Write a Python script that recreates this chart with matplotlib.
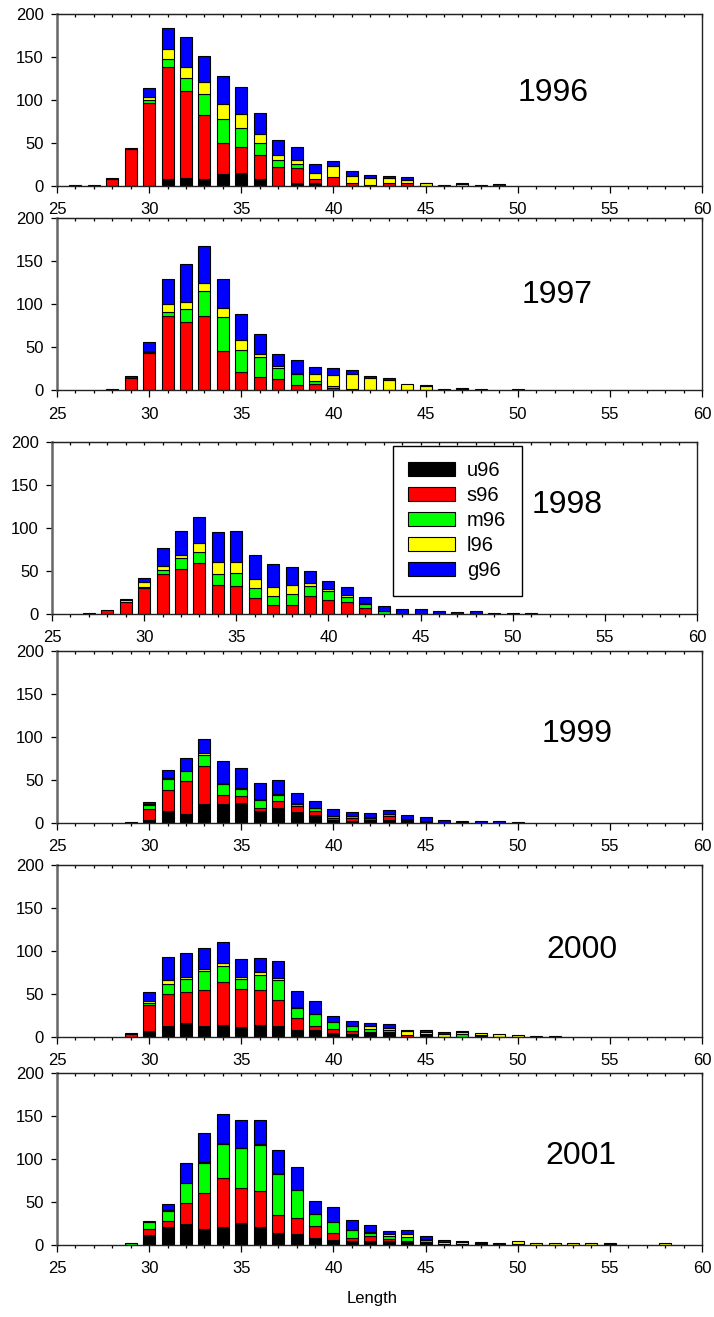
"""Stacked length-frequency bars by group, one panel per year (1996-2001)."""

import matplotlib.pyplot as plt
import numpy as np
from matplotlib.patches import Patch
from matplotlib.ticker import MultipleLocator

plt.rcParams["font.family"] = ["Liberation Sans", "DejaVu Sans"]

FIRST_LENGTH = 26
GROUPS = ["u96", "s96", "m96", "l96", "g96"]
COLORS = ["#000000", "#ff0000", "#00ff00", "#ffff00", "#0000ff"]
YEARS = ["1996", "1997", "1998", "1999", "2000", "2001"]

# counts per 1-unit length class, starting at FIRST_LENGTH
U_1996 = [0, 0, 0, 0, 0, 8, 9, 8, 14, 15, 8, 0, 3, 3, 0, 0, 0, 0, 0, 0, 0, 0, 0, 0]
S_1996 = [1, 1, 8, 43, 97, 130, 102, 75, 36, 30, 28, 22, 18, 5, 10, 3, 1, 3, 3, 0, 0, 0, 0, 0]
M_1996 = [0, 0, 0, 0, 3, 10, 15, 24, 28, 22, 14, 8, 4, 0, 0, 0, 0, 0, 0, 0, 0, 0, 0, 0]
L_1996 = [0, 0, 0, 0, 4, 11, 13, 14, 18, 17, 11, 6, 5, 7, 13, 9, 8, 6, 4, 3, 0, 2, 0, 0]
G_1996 = [0, 0, 1, 1, 10, 25, 35, 30, 32, 31, 24, 18, 15, 11, 6, 6, 4, 3, 3, 1, 1, 1, 1, 2]

U_1997 = [0] * 25
S_1997 = [0, 0, 1, 14, 44, 87, 79, 86, 46, 21, 15, 13, 6, 7, 3, 1, 0, 0, 0, 0, 0, 0, 0, 0, 0]
M_1997 = [0, 0, 0, 0, 0.5, 4, 16, 29, 39, 26, 24, 13, 13, 4, 2, 1, 0, 0, 0, 0, 0, 0, 0, 0, 0]
L_1997 = [0, 0, 0, 0, 1, 9, 8, 10, 11, 11, 3, 2, 1, 8, 13, 17, 14, 12, 7, 5, 2, 2, 2, 0, 0]
G_1997 = [0, 0, 0, 3, 11, 30, 44, 43, 34, 31, 23, 14, 15, 8, 8, 5, 3, 2, 0, 1, 0, 1, 0, 0, 1]

U_1998 = [0] * 26
S_1998 = [0, 1, 4, 14, 30, 46, 52, 59, 33, 32, 18, 10, 10, 21, 16, 14, 7, 0, 0, 0, 0, 0, 0, 0, 0, 0]
M_1998 = [0, 0, 0, 0, 1, 5, 13, 13, 13, 16, 12, 11, 13, 11, 10, 6, 4, 3, 0, 0, 0, 0, 0, 0, 0, 0]
L_1998 = [0, 0, 0, 2, 6, 5, 4, 10, 14, 12, 11, 10, 10, 4, 3, 2, 2, 0, 0, 0, 0, 0, 0, 0, 0, 0]
G_1998 = [0, 0, 0, 1, 5, 21, 28, 31, 35, 36, 28, 27, 21, 14, 9, 9, 6, 6, 5, 6, 3, 2, 3, 1, 1, 1]

U_1999 = [0, 0, 0, 1, 4, 14, 11, 22, 22, 23, 14, 17, 13, 9, 3, 2, 4, 4, 4, 1, 0, 1, 0, 0, 0]
S_1999 = [0, 0, 0, 0, 12, 24, 38, 44, 11, 8, 4, 8, 7, 5, 3, 4, 2, 4, 0, 1, 0, 0, 0, 0, 0]
M_1999 = [0, 0, 0, 0, 5, 13, 12, 13, 12, 9, 9, 8, 2, 3, 2, 2, 1, 2, 0, 0, 0, 0, 0, 0, 0]
L_1999 = [0, 0, 0, 0, 1, 1, 0, 2, 2, 1, 1, 1, 1, 1, 0, 0, 0, 0, 1, 0, 0, 1, 0, 0, 1]
G_1999 = [0, 0, 0, 0, 2, 10, 15, 17, 25, 23, 19, 16, 12, 8, 8, 5, 5, 5, 4, 5, 3, 0, 2, 2, 0]

U_2000 = [0, 0, 0, 0, 7, 12, 16, 13, 14, 11, 14, 12, 8, 8, 4, 3, 5, 6, 0, 3, 0, 0, 2, 0, 0, 0, 0]
S_2000 = [0, 0, 0, 3, 30, 38, 36, 41, 50, 45, 40, 31, 14, 5, 5, 4, 1, 0, 2, 0, 0, 0, 0, 0, 0, 0, 0]
M_2000 = [0, 0, 0, 1, 2, 12, 15, 23, 18, 11, 18, 23, 11, 13, 8, 6, 3, 2, 0, 0, 0, 3, 0, 0, 0, 0, 0]
L_2000 = [0, 0, 0, 0, 3, 4, 2, 2, 4, 2, 3, 2, 2, 0, 0, 0, 3, 2, 5, 3, 3, 2, 2, 3, 2, 1, 1]
G_2000 = [0, 0, 0, 0, 10, 27, 29, 24, 24, 22, 17, 20, 18, 16, 7, 5, 4, 5, 1, 2, 2, 2, 0, 0, 0, 0, 0]

U_2001 = [0, 0, 0, 0, 11, 20, 24, 18, 20, 25, 20, 14, 12, 8, 5, 4, 4, 4, 3, 3, 1, 1, 2, 1, 1,
          0, 0, 0, 0, 2, 0, 0, 0]
S_2001 = [0, 0, 0, 0, 7, 8, 24, 42, 58, 41, 42, 21, 19, 14, 9, 4, 6, 3, 1, 0, 0, 0, 0, 0, 0,
          0, 0, 0, 0, 0, 0, 0, 0]
M_2001 = [0, 0, 0, 2, 8, 11, 24, 35, 39, 46, 54, 47, 33, 14, 12, 9, 4, 3, 5, 2, 0, 0, 0, 0, 0,
          0, 0, 0, 0, 0, 0, 0, 0]
L_2001 = [0, 0, 0, 0, 1, 1, 0, 1, 1, 1, 1, 1, 0, 0, 0, 0, 1, 2, 3, 2, 2, 2, 0, 1, 3,
          2, 2, 2, 2, 0, 0, 0, 2]
G_2001 = [0, 0, 0, 0, 0, 7, 23, 34, 34, 32, 28, 27, 26, 15, 18, 12, 8, 4, 5, 3, 2, 1, 1, 0, 0,
          0, 0, 0, 0, 0, 0, 0, 0]

YEAR_SERIES = {
    "1996": [U_1996, S_1996, M_1996, L_1996, G_1996],
    "1997": [U_1997, S_1997, M_1997, L_1997, G_1997],
    "1998": [U_1998, S_1998, M_1998, L_1998, G_1998],
    "1999": [U_1999, S_1999, M_1999, L_1999, G_1999],
    "2000": [U_2000, S_2000, M_2000, L_2000, G_2000],
    "2001": [U_2001, S_2001, M_2001, L_2001, G_2001],
}

# panel rectangles (figure fraction) and year-label spots (axes fraction)
PANEL_RECTS = [
    (0.0798, 0.8588, 0.9034, 0.1304),
    (0.0798, 0.7036, 0.9034, 0.1306),
    (0.0728, 0.5340, 0.9034, 0.1301),
    (0.0798, 0.3751, 0.9034, 0.1306),
    (0.0798, 0.2128, 0.9034, 0.1304),
    (0.0798, 0.0549, 0.9034, 0.1306),
]
YEAR_LABEL_POS = [
    (0.769, 0.542),
    (0.775, 0.554),
    (0.798, 0.634),
    (0.807, 0.517),
    (0.814, 0.505),
    (0.812, 0.516),
]


def style_axes(ax):
    """Ticks and spines like the original plot."""

    ax.set_xlim(25, 60)
    ax.set_ylim(0, 200)
    ax.set_xticks(range(25, 61, 5))
    ax.xaxis.set_minor_locator(MultipleLocator(1))
    ax.set_yticks(range(0, 201, 50))
    ax.tick_params(axis="x", which="major", direction="out", length=4.8,
                   width=0.9, pad=7, labelsize=12)
    ax.tick_params(axis="x", which="minor", direction="out", length=2.4,
                   width=0.9)
    ax.tick_params(axis="y", direction="out", length=4.5, width=0.9,
                   pad=5, labelsize=12)

    top = ax.secondary_xaxis("top")
    top.set_xticks(range(25, 61))
    top.tick_params(direction="in", length=2.4, width=0.9, labeltop=False)
    top.spines["top"].set_color("#333333")

    for name in ["top", "right", "bottom"]:
        ax.spines[name].set_color("#222222")
        ax.spines[name].set_linewidth(1.0)
    ax.spines["left"].set_color("#666666")
    ax.spines["left"].set_linewidth(1.8)


def draw_panel(ax, series):
    """Draw one year's stacked bars."""

    n = max(len(s) for s in series)
    lengths = np.arange(FIRST_LENGTH, FIRST_LENGTH + n)
    bottom = np.zeros(n)
    for label, color, values in zip(GROUPS, COLORS, series):
        values = np.pad(np.asarray(values, dtype=float), (0, n - len(values)))
        keep = values > 0
        ax.bar(
            lengths[keep],
            values[keep],
            bottom=bottom[keep],
            width=0.65,
            color=color,
            edgecolor="black",
            linewidth=0.8,
            label=label,
        )
        bottom += values


def main():
    fig = plt.figure(figsize=(7.14, 13.17), dpi=100)

    for i, year in enumerate(YEARS):
        ax = fig.add_axes(PANEL_RECTS[i])
        draw_panel(ax, YEAR_SERIES[year])
        style_axes(ax)
        x, y = YEAR_LABEL_POS[i]
        ax.text(x, y, year, transform=ax.transAxes, fontsize=23,
                ha="center", va="center")

        if year == "1998":
            handles = [
                Patch(facecolor=c, edgecolor="black", linewidth=0.8)
                for c in COLORS
            ]
            legend = ax.legend(
                handles,
                GROUPS,
                loc="upper left",
                bbox_to_anchor=(0.529, 0.103, 0.2, 0.875),
                mode="expand",
                fontsize=14.5,
                handlelength=2.3,
                handleheight=0.7,
                handletextpad=0.6,
                labelspacing=0.3,
                borderpad=0.75,
                borderaxespad=0,
                fancybox=False,
                framealpha=1,
            )
            legend.get_frame().set_edgecolor("black")
            legend.get_frame().set_linewidth(1.0)

    fig.text(0.521, 0.0144, "Length", fontsize=12, ha="center", va="center")

    fig.savefig("out.png", dpi=100)
    plt.close(fig)


if __name__ == "__main__":
    main()
